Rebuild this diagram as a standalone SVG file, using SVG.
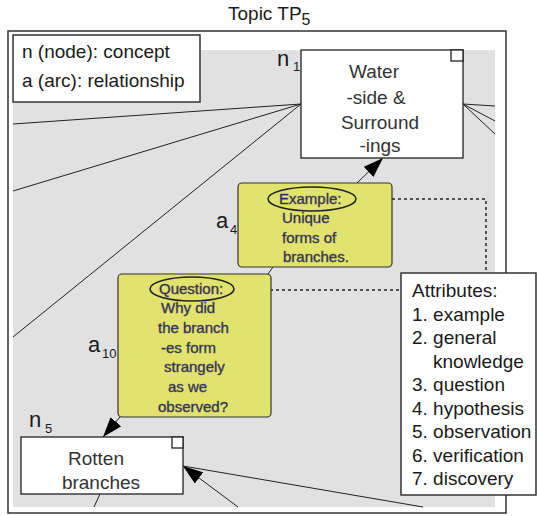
<svg xmlns="http://www.w3.org/2000/svg" width="537" height="516" viewBox="0 0 537 516">
<style>
text{font-family:"Liberation Sans",Arial,sans-serif;}
.lbl{font-size:19px;fill:#1a1a1a;}
.big{font-size:22px;fill:#1a1a1a;}
.sub{font-size:13px;fill:#1a1a1a;}
.node{fill:#fff;stroke:#222;stroke-width:1.3;}
.nt{font-size:19px;fill:#333;text-anchor:middle;}
.yb{fill:#e2e26e;stroke:#333;stroke-width:1.2;}
.yt{font-size:15px;fill:#1e1e3c;stroke:#55556a;stroke-width:0.45;}
.ell{fill:none;stroke:#222;stroke-width:1.6;}
.ln{stroke:#222;stroke-width:1;fill:none;}
.dash{stroke:#222;stroke-width:1.5;stroke-dasharray:3,3;fill:none;}
</style>
<defs>
<marker id="ah" viewBox="0 0 20 14" refX="20" refY="7" markerWidth="20" markerHeight="14" markerUnits="userSpaceOnUse" orient="auto">
<path d="M0,0 L20,7 L0,14 Z" fill="#000"/>
</marker>
</defs>
<rect width="537" height="516" fill="#fff"/>
<text x="228" y="20" class="lbl">Topic TP<tspan font-size="16" dy="5">5</tspan></text>
<rect x="8" y="31" width="498" height="482" fill="#fff" stroke="#333" stroke-width="1.5"/>
<rect x="13" y="50" width="482" height="457" fill="#e1e1e1"/>
<g id="connectors">
<line class="ln" x1="13" y1="124" x2="301" y2="104"/>
<line class="ln" x1="13" y1="191" x2="301" y2="104"/>
<line class="ln" x1="13" y1="337" x2="301" y2="104"/>
<line class="ln" x1="463" y1="104" x2="495" y2="106"/>
<line class="ln" x1="463" y1="104" x2="495" y2="121"/>
<line class="ln" x1="463" y1="104" x2="495" y2="134"/>
<line class="ln" x1="357" y1="183" x2="383" y2="158" marker-end="url(#ah)"/>
<line class="ln" x1="120" y1="417" x2="103" y2="437" marker-end="url(#ah)"/>
<line class="ln" x1="238" y1="507" x2="183" y2="466" marker-end="url(#ah)"/>
<line class="ln" x1="423" y1="507" x2="183" y2="466"/>
<line class="ln" x1="100" y1="494" x2="94" y2="507"/>
<line class="ln" x1="273" y1="267" x2="268" y2="274"/>
<polyline class="dash" points="356,199 486,199 486,273"/>
<line class="dash" x1="234" y1="290" x2="401" y2="290"/>
</g>
<g id="legend">
<rect x="13" y="35" width="187" height="67" fill="#fff" stroke="#333" stroke-width="1.5"/>
<text x="22" y="58" class="lbl">n (node): concept</text>
<text x="22" y="87" class="lbl">a (arc): relationship</text>
</g>
<g id="n1">
<rect class="node" x="301" y="50" width="162" height="108"/>
<rect class="node" x="451" y="50" width="12" height="11"/>
<text x="374" y="78" class="nt">Water</text>
<text x="376" y="104" class="nt">-side &amp;</text>
<text x="380" y="129" class="nt">Surround</text>
<text x="380" y="152" class="nt">-ings</text>
<text x="277" y="66" class="big">n</text>
<text x="293" y="71" class="sub">1</text>
</g>
<g id="a4">
<rect class="yb" x="238" y="183" width="154" height="84" rx="4"/>
<ellipse class="ell" cx="312" cy="199" rx="44" ry="12"/>
<text x="279" y="204" class="yt">Example:</text>
<text x="282" y="223" class="yt">Unique</text>
<text x="282" y="243" class="yt">forms of</text>
<text x="283" y="262" class="yt">branches.</text>
<text x="216" y="228" class="big">a</text>
<text x="230" y="234" class="sub">4</text>
</g>
<g id="a10">
<rect class="yb" x="118" y="274" width="153" height="143" rx="4"/>
<ellipse class="ell" cx="192" cy="289" rx="42" ry="12"/>
<text x="159" y="294" class="yt">Question:</text>
<text x="161" y="313" class="yt">Why did</text>
<text x="158" y="333" class="yt">the branch</text>
<text x="161" y="353" class="yt">-es form</text>
<text x="164" y="372" class="yt">strangely</text>
<text x="168" y="392" class="yt">as we</text>
<text x="158" y="412" class="yt">observed?</text>
<text x="88" y="352" class="big">a</text>
<text x="102" y="358" class="sub">10</text>
</g>
<g id="n5">
<rect class="node" x="21" y="437" width="162" height="57"/>
<rect class="node" x="172" y="437" width="11" height="11"/>
<text x="96" y="465" class="nt">Rotten</text>
<text x="101" y="489" class="nt">branches</text>
<text x="29" y="427" class="big">n</text>
<text x="45" y="433" class="sub">5</text>
</g>
<g id="attributes">
<rect x="401" y="273" width="135" height="222" fill="#fff" stroke="#333" stroke-width="1.5"/>
<text x="412" y="297" class="lbl">Attributes:</text>
<text x="412" y="320.5" class="lbl">1. example</text>
<text x="412" y="344" class="lbl">2. general</text>
<text x="433" y="367.5" class="lbl">knowledge</text>
<text x="412" y="391" class="lbl">3. question</text>
<text x="412" y="414.5" class="lbl">4. hypothesis</text>
<text x="412" y="438" class="lbl">5. observation</text>
<text x="412" y="461.5" class="lbl">6. verification</text>
<text x="412" y="485" class="lbl">7. discovery</text>
</g>
</svg>
